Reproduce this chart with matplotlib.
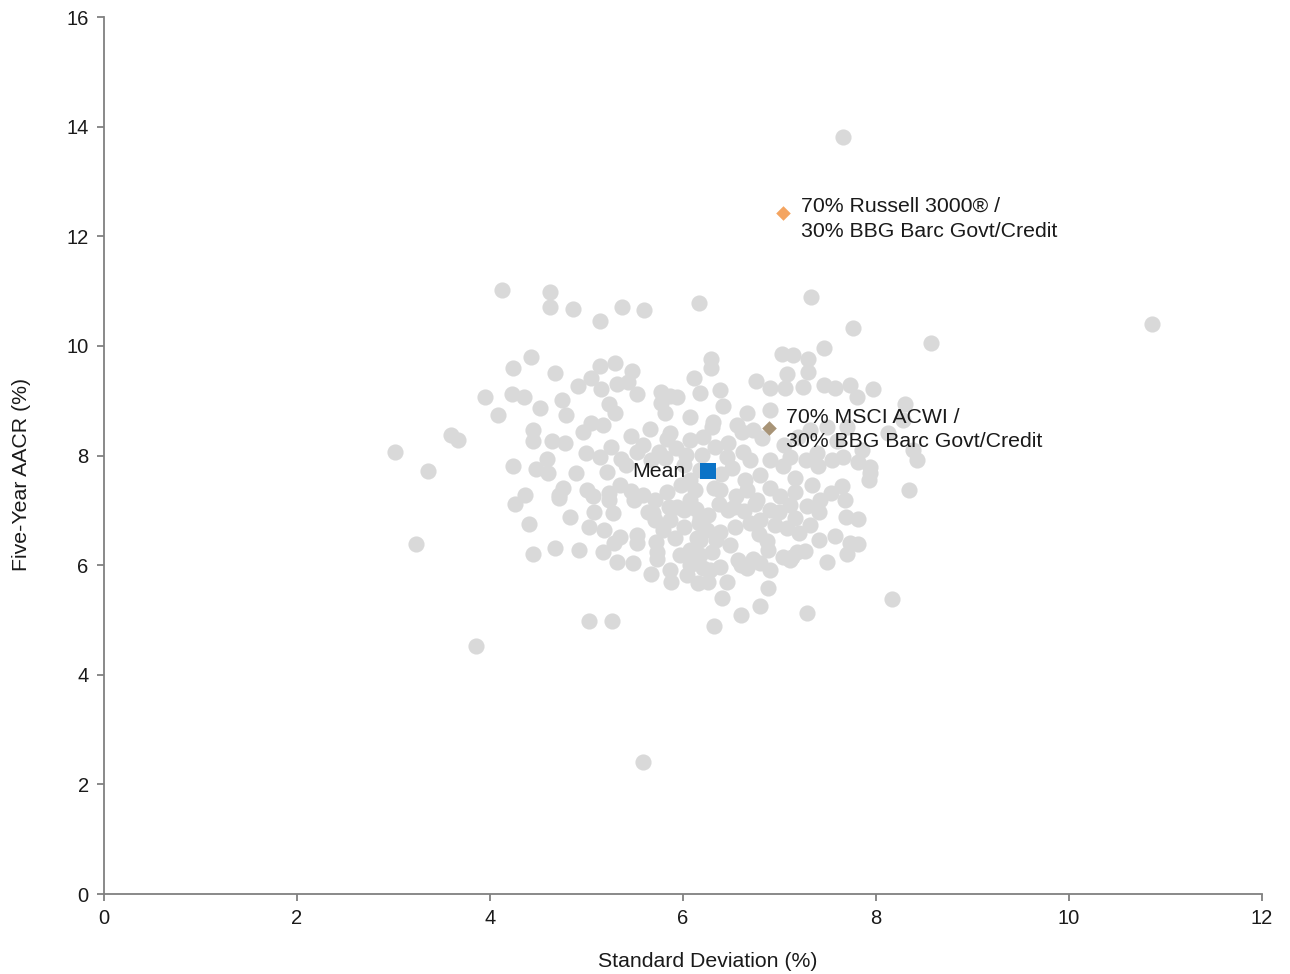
import matplotlib
matplotlib.use("Agg")
import matplotlib.pyplot as plt

plt.rcParams['font.family'] = ['Liberation Sans', 'DejaVu Sans']

# peer portfolios: standard deviation (%) and five-year AACR (%)
peer_sd = [
    3.02, 3.36, 3.23, 3.60, 3.67, 3.85, 3.95, 4.08, 4.12, 4.24, 4.23, 4.35, 4.42, 4.24, 4.26, 4.36,
    4.40, 4.45, 4.45, 4.45, 4.52, 4.62, 4.62, 4.86, 4.67, 4.64, 4.59, 4.60, 4.75, 4.79, 4.78, 4.76,
    4.71, 4.67, 4.92, 4.83, 4.89, 4.91, 5.03, 5.26, 5.14, 5.37, 5.60, 5.59, 6.17, 7.33, 7.66, 10.86,
    8.57, 7.76, 7.46, 8.17, 7.28, 6.88, 6.80, 6.60, 6.32, 6.40, 8.34, 8.30, 7.97, 7.80,
    5.14, 5.30, 5.47, 5.05, 5.15, 5.32, 5.43, 5.23, 5.30, 5.52, 5.77, 5.87, 5.77, 5.81, 4.96, 5.05,
    5.17, 5.46, 5.66, 5.83, 4.99, 5.25, 5.14, 5.36, 5.52, 5.59, 5.75, 4.48, 5.21,
    4.72, 5.01, 5.07, 5.23, 5.23, 5.49, 5.64, 5.69, 5.08, 5.27, 5.03, 5.18, 5.35, 5.28, 5.52, 5.52,
    5.72, 5.79, 5.92, 5.17, 5.32, 5.48, 5.73, 5.73, 5.67, 5.88, 5.87,
    7.93, 7.53, 7.65, 7.16, 7.34, 7.28, 7.41, 7.16, 7.32, 6.99, 7.69, 7.81, 7.58, 7.73, 7.81, 7.70,
    7.49, 7.41, 7.26, 7.13, 7.04, 6.87, 6.80, 6.66, 6.57, 6.46, 6.26, 6.16, 6.21, 6.38, 6.15, 6.25,
    6.26, 6.49, 6.47, 6.69, 6.90, 6.77, 6.66, 6.38, 6.12, 5.94,
    6.29, 6.29, 7.30, 7.03, 7.14, 7.30, 7.08, 6.76, 6.11, 6.90, 7.06, 7.24, 7.46, 7.58, 7.73, 6.38,
    6.41, 6.18, 6.66, 6.56, 6.31, 6.07, 5.94, 5.87, 6.21, 6.90, 6.47, 6.73, 7.32, 7.49, 7.70, 8.38,
    8.42, 7.94, 7.94, 7.66, 7.39, 7.11, 6.90, 6.69, 6.46, 6.20, 8.28,
    6.39, 6.51, 7.04, 7.27, 7.40, 7.54, 7.81, 6.32, 6.55, 6.90, 7.01, 6.75, 6.63, 6.53, 6.37, 6.13,
    6.01, 5.85, 6.38, 6.54, 6.79, 7.08, 7.20, 6.01, 6.17, 6.07, 6.18, 6.30, 6.60, 6.73, 6.88, 7.11,
    7.18, 6.04, 6.34, 6.18, 6.07, 6.80, 6.64, 7.16, 6.30, 6.61, 6.82, 7.05, 7.19, 7.60, 7.85, 8.12,
    6.33, 6.62, 6.01, 5.71, 5.83, 5.98, 5.59, 5.35, 5.46, 5.41, 5.67, 5.81, 5.93, 6.03, 6.07, 5.71,
    5.87, 6.07, 6.18, 7.42, 7.11, 7.68, 6.80, 6.95, 6.18, 6.28, 6.07, 5.97, 6.90,
]
peer_aacr = [
    8.06, 7.71, 6.38, 8.37, 8.29, 4.52, 9.06, 8.74, 11.02, 9.59, 9.12, 9.06, 9.79, 7.81, 7.11, 7.28,
    6.75, 6.20, 8.46, 8.26, 8.86, 10.98, 10.71, 10.67, 9.50, 8.26, 7.93, 7.68, 9.01, 8.74, 8.23, 7.40,
    7.28, 6.31, 6.27, 6.88, 7.68, 9.26, 4.98, 4.98, 10.45, 10.71, 10.65, 2.41, 10.78, 10.89, 13.82, 10.40,
    10.05, 10.32, 9.96, 5.38, 5.13, 5.58, 5.25, 5.09, 4.89, 5.40, 7.37, 8.94, 9.21, 9.06,
    9.63, 9.68, 9.54, 9.41, 9.21, 9.30, 9.34, 8.94, 8.77, 9.12, 9.16, 9.08, 8.95, 8.77, 8.43, 8.59,
    8.55, 8.35, 8.48, 8.30, 8.04, 8.15, 7.97, 7.93, 8.06, 8.19, 8.06, 7.75, 7.70,
    7.22, 7.37, 7.26, 7.31, 7.19, 7.19, 6.97, 6.95, 6.97, 6.95, 6.69, 6.64, 6.51, 6.40, 6.55, 6.40,
    6.42, 6.64, 6.49, 6.24, 6.06, 6.04, 6.24, 6.11, 5.84, 5.69, 5.91,
    7.55, 7.31, 7.44, 7.33, 7.46, 7.08, 6.97, 6.86, 6.73, 6.97, 6.88, 6.84, 6.53, 6.40, 6.38, 6.20,
    6.06, 6.46, 6.26, 6.15, 6.15, 6.44, 6.04, 5.95, 6.09, 5.69, 5.69, 5.67, 5.95, 5.96, 6.49, 6.64,
    6.91, 6.37, 7.00, 6.77, 7.00, 7.19, 7.37, 7.37, 7.37, 7.06,
    9.76, 9.59, 9.52, 9.85, 9.83, 9.76, 9.48, 9.36, 9.41, 9.23, 9.23, 9.25, 9.28, 9.23, 9.28, 9.19,
    8.90, 9.14, 8.77, 8.55, 8.61, 8.70, 9.06, 8.41, 8.33, 8.83, 8.23, 8.46, 8.46, 8.52, 8.52, 8.10,
    7.92, 7.79, 7.68, 7.97, 8.04, 7.97, 7.92, 7.92, 7.97, 8.01, 8.65,
    7.66, 7.77, 7.81, 7.92, 7.81, 7.92, 7.88, 7.40, 7.26, 7.40, 7.26, 7.11, 6.99, 7.06, 7.11, 7.02,
    7.00, 7.06, 6.60, 6.69, 6.57, 6.68, 6.58, 6.69, 6.77, 6.27, 6.18, 6.24, 6.00, 6.11, 6.27, 6.09,
    6.24, 5.82, 6.46, 7.73, 7.55, 7.64, 7.55, 7.59, 8.52, 8.43, 8.32, 8.19, 8.33, 8.26, 8.10, 8.41,
    8.15, 8.06, 7.82, 7.19, 7.33, 7.46, 7.28, 7.46, 7.35, 7.82, 7.92, 7.95, 8.13, 8.01, 8.28, 6.82,
    6.82, 7.19, 6.86, 7.19, 7.09, 7.19, 6.82, 6.73, 6.46, 5.91, 6.00, 6.18, 5.91,
]

# highlighted portfolios
russell_sd, russell_aacr = 7.04, 12.42
msci_sd, msci_aacr = 6.89, 8.50
mean_sd, mean_aacr = 6.26, 7.71

russell_label = '70% Russell 3000® /\n30% BBG Barc Govt/Credit'
msci_label = '70% MSCI ACWI /\n30% BBG Barc Govt/Credit'

fig = plt.figure(figsize=(12.9, 9.74), dpi=100)
ax = fig.add_axes([0.0806, 0.0821, 0.8977, 0.9004])

ax.scatter(peer_sd, peer_aacr, s=135, color='#d9d9d9', linewidths=0, zorder=2)
ax.scatter([russell_sd], [russell_aacr], marker='D', s=55, color='#f4a460', linewidths=0, zorder=3)
ax.scatter([msci_sd], [msci_aacr], marker='D', s=55, color='#a89477', linewidths=0, zorder=3)
ax.scatter([mean_sd], [mean_aacr], marker='s', s=120, color='#0b73c7', linewidths=0, zorder=3)

fs = 15.3
ax.annotate(russell_label, (russell_sd, russell_aacr), xytext=(13, -4), textcoords='offset points',
            ha='left', va='center', fontsize=fs, linespacing=1.38, color='#1a1a1a')
ax.annotate(msci_label, (msci_sd, msci_aacr), xytext=(12, -1), textcoords='offset points',
            ha='left', va='center', fontsize=fs, linespacing=1.38, color='#1a1a1a')
ax.annotate('Mean', (mean_sd, mean_aacr), xytext=(-16, 0), textcoords='offset points',
            ha='right', va='center', fontsize=fs, color='#1a1a1a')

ax.set_xlim(0, 12)
ax.set_ylim(0, 16)
ax.set_xticks(range(0, 13, 2))
ax.set_yticks(range(0, 17, 2))
ax.set_xlabel('Standard Deviation (%)', fontsize=fs, color='#1a1a1a')
ax.set_ylabel('Five-Year AACR (%)', fontsize=fs, color='#1a1a1a')
ax.xaxis.set_label_coords(0.5216, -0.066)
ax.yaxis.set_label_coords(-0.063, 0.479)

for side in ['top', 'right']:
    ax.spines[side].set_visible(False)
for side in ['left', 'bottom']:
    ax.spines[side].set_color('#808080')
    ax.spines[side].set_linewidth(1.3)
ax.tick_params(axis='both', colors='#808080', labelcolor='#1a1a1a', labelsize=14.5,
               length=5, width=1.3, pad=6)

fig.savefig('out.png', dpi=100)
